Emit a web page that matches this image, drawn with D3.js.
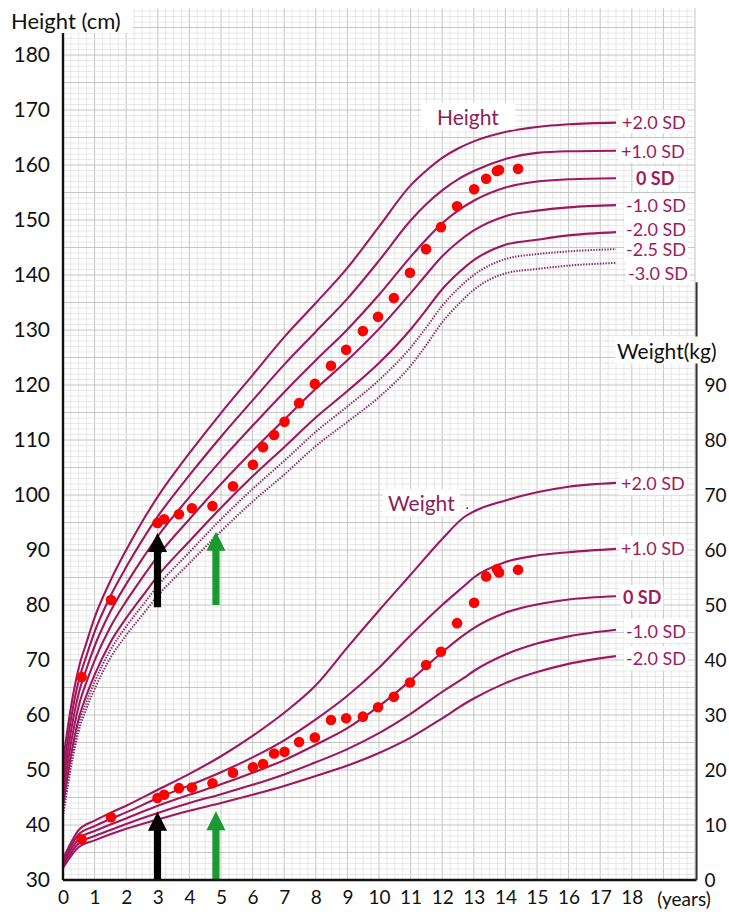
<!DOCTYPE html>
<html>
<head>
<meta charset="utf-8">
<script src="https://cdn.jsdelivr.net/npm/d3@7"></script>
<style>
body { margin: 0; background: #fff; }
svg { display: block; font-family: Lato, "Open Sans", sans-serif; }
</style>
</head>
<body>
<svg id="chart" width="729" height="915"></svg>
<script>

// height reference lines (cm), by age in years
var hAges = [0, 0.25, 0.5, 0.75, 1, 1.5, 2, 2.5, 3, 4, 5, 6, 7, 8, 9, 10, 11, 11.5, 12, 12.5, 13, 14, 15, 16, 17.5];
var hP2  = [51.5, 61.4, 68.6, 73.3, 77.7, 84.4, 90.0, 95.1, 99.7, 107.6, 114.9, 121.8, 128.7, 134.9, 141.3, 148.8, 156.3, 159.0, 161.3, 163.0, 164.3, 166.0, 166.9, 167.4, 167.7];
var hP1  = [49.5, 59.2, 66.3, 70.9, 75.1, 81.6, 86.9, 91.7, 96.1, 103.6, 110.6, 117.2, 123.7, 129.7, 135.7, 142.6, 149.9, 152.9, 155.4, 157.4, 158.9, 161.1, 162.2, 162.5, 162.6];
var h0   = [47.5, 57.0, 64.0, 68.5, 72.5, 78.8, 83.8, 88.3, 92.5, 99.6, 106.3, 112.6, 118.7, 124.5, 130.1, 136.4, 143.3, 146.5, 149.4, 151.7, 153.5, 155.9, 157.0, 157.4, 157.6];
var hM1  = [45.5, 54.8, 61.7, 66.1, 69.9, 76.0, 80.7, 84.9, 88.9, 95.6, 102.0, 108.0, 113.7, 119.3, 124.5, 130.2, 136.7, 140.1, 143.4, 146.0, 148.1, 150.7, 151.7, 152.3, 152.7];
var hM2  = [43.5, 52.6, 59.4, 63.7, 67.3, 73.2, 77.6, 81.5, 85.3, 91.6, 97.7, 103.4, 108.7, 114.1, 118.9, 124.0, 130.1, 133.7, 137.4, 140.3, 142.7, 145.5, 146.4, 147.2, 147.8];
var hM25 = [42.5, 51.5, 58.3, 62.5, 66.0, 71.8, 76.1, 79.8, 83.5, 89.6, 95.6, 101.1, 106.2, 111.5, 116.1, 120.9, 126.8, 130.5, 134.4, 137.5, 140.0, 142.9, 143.8, 144.3, 144.7];
var hM3  = [41.5, 50.4, 57.1, 61.3, 64.7, 70.4, 74.5, 78.1, 81.7, 87.6, 93.4, 98.8, 103.7, 108.9, 113.3, 117.8, 123.5, 127.3, 131.4, 134.6, 137.3, 140.3, 141.1, 141.7, 142.2];

// weight reference lines (kg)
var wAges = [0, 0.5, 1, 1.5, 2, 3, 4, 5, 6, 7, 8, 9, 10, 11, 12, 12.7, 13, 14, 15, 16, 17.5];
var wP2 = [3.8, 9.1, 10.8, 12.2, 13.5, 16.4, 19.3, 22.5, 26.2, 30.4, 35.4, 42.3, 49.0, 55.5, 62.0, 66.0, 67.0, 69.0, 70.5, 71.5, 72.2];
var wP1 = [3.4, 8.3, 9.8, 11.1, 12.3, 14.9, 17.2, 19.6, 22.3, 25.4, 29.2, 33.5, 38.6, 44.5, 50.0, 53.5, 55.0, 57.8, 59.0, 59.6, 60.2];
var w0  = [3.0, 7.5, 8.9, 10.1, 11.2, 13.5, 15.5, 17.4, 19.5, 21.8, 24.6, 27.6, 31.6, 36.3, 41.4, 44.6, 45.8, 48.6, 50.1, 51.0, 51.6];
var wM1 = [2.6, 6.7, 8.0, 9.1, 10.2, 12.2, 14.0, 15.6, 17.3, 19.2, 21.4, 23.8, 26.7, 30.2, 34.2, 36.8, 38.0, 41.0, 43.0, 44.3, 45.5];
var wM2 = [2.2, 6.0, 7.2, 8.3, 9.3, 11.0, 12.6, 14.0, 15.5, 17.1, 18.9, 20.8, 23.1, 25.9, 29.4, 32.0, 33.0, 35.8, 37.8, 39.3, 40.7];

// patient measurements
var ptAges    = [0.59, 1.52, 2.99, 3.2, 3.67, 4.08, 4.73, 5.38, 6.01, 6.33, 6.68, 7.01, 7.47, 7.97, 8.48, 8.96, 9.49, 9.97, 10.47, 10.98, 11.49, 11.96, 12.47, 13.01, 13.39, 13.73, 13.8, 14.4];
var ptHeights = [66.9, 80.9, 94.9, 95.6, 96.5, 97.6, 98.0, 101.6, 105.5, 108.7, 110.9, 113.3, 116.7, 120.2, 123.5, 126.4, 129.8, 132.4, 135.8, 140.4, 144.7, 148.7, 152.5, 155.6, 157.5, 158.9, 159.1, 159.3];
var ptWeights = [7.4, 11.4, 14.9, 15.5, 16.7, 16.8, 17.6, 19.5, 20.5, 21.1, 23.0, 23.3, 25.1, 25.9, 29.1, 29.4, 29.7, 31.4, 33.3, 35.9, 39.1, 41.5, 46.7, 50.4, 55.2, 56.5, 55.9, 56.4];

var xTicks = d3.range(0, 19);
var hTicks = d3.range(30, 181, 10);
var wTicks = d3.range(0, 91, 10);
var sdLabels = ["+2.0 SD", "+1.0 SD", "0 SD", "-1.0 SD", "-2.0 SD", "-2.5 SD", "-3.0 SD"];

var svg = d3.select("#chart");
var x = d3.scaleLinear().domain([0, 20]).range([63, 695]);
var y = d3.scaleLinear().domain([30, 190]).range([880, 0]);
var yw = d3.scaleLinear().domain([0, 160]).range([880, 0]);

var lineCol = "#a0185c", textCol = "#a3195b";

// grid paper
var grid = svg.append("g");
grid.selectAll(".vmin").data(d3.range(0, 20.01, 0.25)).enter().append("line")
    .attr("x1", d => x(d)).attr("x2", d => x(d))
    .attr("y1", y(30)).attr("y2", y(188.5))
    .attr("stroke", d => d % 1 == 0 ? "#c4c4c4" : "#e2e2e2")
    .attr("stroke-width", d => d % 1 == 0 ? 1 : 0.8);
grid.selectAll(".hmin").data(d3.range(30, 188.6, 1)).enter().append("line")
    .attr("x1", x(0)).attr("x2", x(20))
    .attr("y1", d => y(d)).attr("y2", d => y(d))
    .attr("stroke", d => d % 5 == 0 ? "#c4c4c4" : "#e2e2e2")
    .attr("stroke-width", d => d % 5 == 0 ? 1 : 0.8);

// curves
var line = d3.line().x(d => x(d[0])).y(d => y(d[1])).curve(d3.curveMonotoneX);
var lineW = d3.line().x(d => x(d[0])).y(d => yw(d[1])).curve(d3.curveMonotoneX);

var hCurves = [hP2, hP1, h0, hM1, hM2, hM25, hM3];
hCurves.forEach(function (c, i) {
    var p = svg.append("path")
        .attr("d", line(hAges.map((a, j) => [a, c[j]])))
        .attr("fill", "none");
    if (i < 5) p.attr("stroke", lineCol).attr("stroke-width", 2.1);
    else p.attr("stroke", "#8a2a68").attr("stroke-width", 2).attr("stroke-dasharray", "1.4,1.4");
});

var wCurves = [wP2, wP1, w0, wM1, wM2];
wCurves.forEach(function (c) {
    svg.append("path")
        .attr("d", lineW(wAges.map((a, j) => [a, c[j]])))
        .attr("fill", "none")
        .attr("stroke", lineCol).attr("stroke-width", 2.1);
});

// arrows
function arrow(age, yTop, yBot, col) {
    var cx = x(age), sw = 3.6, hw = 9.5, hl = 19;
    var p = d3.path();
    p.moveTo(cx, yTop);
    p.lineTo(cx + hw, yTop + hl);
    p.lineTo(cx + sw, yTop + hl);
    p.lineTo(cx + sw, yBot);
    p.lineTo(cx - sw, yBot);
    p.lineTo(cx - sw, yTop + hl);
    p.lineTo(cx - hw, yTop + hl);
    p.closePath();
    svg.append("path").attr("d", p.toString()).attr("fill", col);
}
arrow(2.99, y(93.1), y(79.6), "#000");
arrow(4.84, y(93.3), y(80.0), "#1a9a30");
arrow(2.99, yw(12.4), yw(0), "#000");
arrow(4.84, yw(12.5), yw(0), "#1a9a30");

// points
svg.selectAll(".hp").data(ptAges).enter().append("circle")
    .attr("cx", d => x(d)).attr("cy", (d, i) => y(ptHeights[i]))
    .attr("r", 5.3).attr("fill", "#f00");
svg.selectAll(".wp").data(ptAges).enter().append("circle")
    .attr("cx", d => x(d)).attr("cy", (d, i) => yw(ptWeights[i]))
    .attr("r", 5.3).attr("fill", "#f00");

// label with white box
function boxed(tx, ty, str, size, weight, col, pad) {
    var g = svg.append("g");
    var t = g.append("text").attr("x", tx).attr("y", ty)
        .attr("font-size", size).attr("font-weight", weight || "normal")
        .attr("fill", col).attr("dominant-baseline", "central").text(str);
    var b = t.node().getBBox();
    pad = pad || 2;
    g.insert("rect", "text").attr("x", b.x - pad).attr("y", b.y - 1)
        .attr("width", b.width + 2 * pad).attr("height", b.height + 2).attr("fill", "#fff");
    return g;
}

var hEnd = hCurves.map(c => c[c.length - 1]);
var hLabelX = [622, 621, 636, 626, 626, 626, 628];
var hLabelDy = [-1, 0, 0, 0, -3, 0, 10];
sdLabels.forEach(function (s, i) {
    boxed(hLabelX[i], y(hEnd[i]) + hLabelDy[i], s, 18, i == 2 ? "bold" : "normal", textCol);
});
var wEnd = wCurves.map(c => c[c.length - 1]);
var wLabelX = [621, 621, 623, 626, 626];
var wLabelDy = [0, -1, 1, 1, 2];
[0, 1, 2, 3, 4].forEach(function (i) {
    boxed(wLabelX[i], yw(wEnd[i]) + wLabelDy[i], sdLabels[i], 18, i == 2 ? "bold" : "normal", textCol);
});

boxed(437, y(168.9), "Height", 21, "normal", "#8c1d5b", 16);
boxed(388, yw(68.6), "Weight", 21, "normal", "#8c1d5b", 5);
svg.append("circle").attr("cx", x(12.79)).attr("cy", yw(67.6)).attr("r", 0.9).attr("fill", "#8c1d5b");

// axes
svg.append("line").attr("x1", x(0)).attr("x2", x(0)).attr("y1", y(30)).attr("y2", y(184))
    .attr("stroke", "#111").attr("stroke-width", 2.4);
svg.append("line").attr("x1", x(0)).attr("x2", x(20.05)).attr("y1", y(30)).attr("y2", y(30))
    .attr("stroke", "#111").attr("stroke-width", 2.4);
svg.append("line").attr("x1", x(20.05)).attr("x2", x(20.05)).attr("y1", yw(0)).attr("y2", yw(108.7))
    .attr("stroke", "#333").attr("stroke-width", 2);

var ax = svg.append("g").attr("transform", "translate(" + x(0) + ",0)")
    .call(d3.axisLeft(y).tickValues(hTicks).tickSize(0).tickPadding(13));
var axr = svg.append("g").attr("transform", "translate(" + x(20.05) + ",0)")
    .call(d3.axisRight(yw).tickValues(wTicks).tickSize(0).tickPadding(8));
var axb = svg.append("g").attr("transform", "translate(0," + y(30) + ")")
    .call(d3.axisBottom(x).tickValues(xTicks).tickSize(0).tickPadding(11));
[ax, axr, axb].forEach(function (a) {
    a.select(".domain").remove();
    a.selectAll("text").attr("font-size", 21).attr("fill", "#111")
        .attr("font-family", "Lato, 'Open Sans', sans-serif");
});
axr.selectAll("text").attr("font-size", 19);
axb.selectAll("text").attr("font-size", 19);

svg.append("text").attr("x", 684).attr("y", 906).attr("text-anchor", "middle")
    .attr("font-size", 19).attr("fill", "#111").text("(years)");

var hl = boxed(11, 20, "Height (cm)", 22, "normal", "#111", 2);
hl.select("rect").attr("x", 0).attr("y", 0).attr("width", 133).attr("height", 33);
var wl = boxed(617, 350, "Weight(kg)", 21, "normal", "#111", 2);

</script>
</body>
</html>
